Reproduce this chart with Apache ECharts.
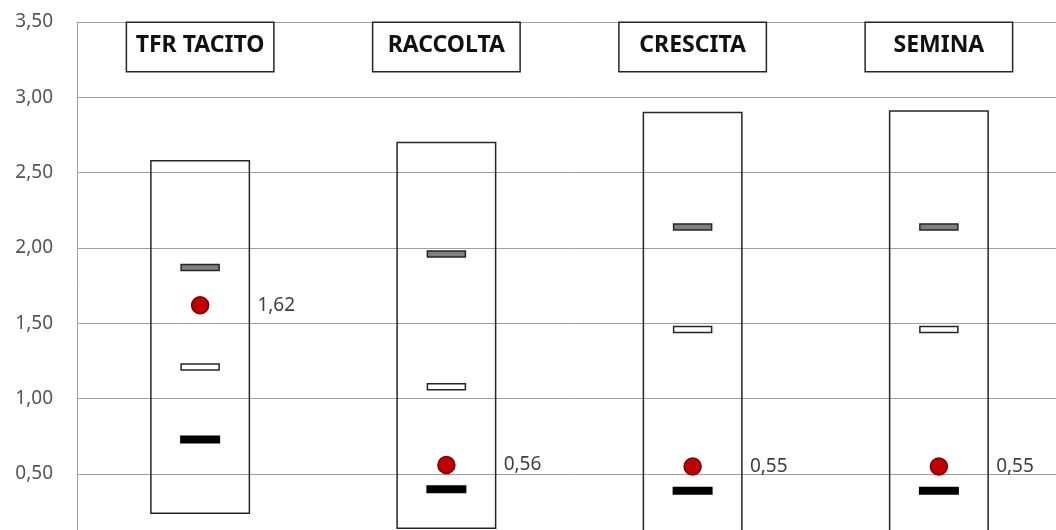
<!DOCTYPE html>
<html>
<head>
<meta charset="utf-8">
<script src="https://cdn.jsdelivr.net/npm/echarts@6/dist/echarts.min.js"></script>
<style>
  html, body { margin: 0; padding: 0; background: #fff; overflow: hidden; }
  #chart { width: 1062px; height: 560px; }
</style>
</head>
<body>
<div id="chart"></div>
<script>
// categorie e valori
const categories = ['TFR TACITO', 'RACCOLTA', 'CRESCITA', 'SEMINA']
const boxTop = [2.58, 2.70, 2.90, 2.91]
const boxBottom = [0.24, 0.14, 0.05, 0.05]
const grayMark = [1.87, 1.96, 2.14, 2.14]
const whiteMark = [1.21, 1.08, 1.46, 1.46]
const blackMark = [0.73, 0.40, 0.39, 0.39]
const pointValue = [1.62, 0.56, 0.55, 0.55]
const yTicks = { min: 0, max: 3.5, interval: 0.5 }

const comma = v => Number(v).toFixed(2).replace('.', ',')
const font = '"Noto Sans", "Open Sans", sans-serif'

function renderBox(params, api) {
  const top = api.coord([api.value(0), api.value(1)])
  const bottom = api.coord([api.value(0), api.value(2)])
  const w = api.size([1, 0])[0] * 0.4
  return {
    type: 'rect',
    shape: { x: top[0] - w / 2, y: top[1], width: w, height: bottom[1] - top[1] },
    style: { fill: 'none', stroke: '#262626', lineWidth: 1.5 },
  }
}

// trattino orizzontale centrato sul valore
function dashSeries(values, fill, stroke) {
  return {
    type: 'custom',
    z: 3,
    data: values.map((v, i) => [i, v]),
    encode: { x: 0, y: 1 },
    renderItem(params, api) {
      const p = api.coord([api.value(0), api.value(1)])
      const w = stroke ? 38 : 40
      const h = stroke ? 6 : 8
      return {
        type: 'rect',
        shape: { x: p[0] - w / 2, y: p[1] - h / 2, width: w, height: h },
        style: { fill, stroke: stroke || null, lineWidth: stroke ? 1.5 : 0 },
      }
    },
  }
}

const chart = echarts.init(document.getElementById('chart'))
chart.setOption({
  animation: false,
  grid: { left: 77, right: 0, top: 22, bottom: 10.6 },
  xAxis: {
    type: 'category',
    data: categories,
    position: 'top',
    axisLine: { show: false },
    axisTick: { show: false },
    axisLabel: {
      inside: true,
      margin: 1,
      interval: 0,
      fontFamily: font,
      fontSize: 23,
      fontWeight: 'bold',
      color: '#111',
      width: 146,
      height: 48,
      lineHeight: 44,
      align: 'center',
      borderColor: '#262626',
      borderWidth: 1.5,
      backgroundColor: '#fff',
    },
  },
  yAxis: {
    type: 'value',
    min: yTicks.min,
    max: yTicks.max,
    interval: yTicks.interval,
    axisLine: { show: true, lineStyle: { color: '#a0a0a0', width: 1 } },
    axisTick: { show: false },
    axisLabel: { formatter: comma, fontFamily: font, fontSize: 19, color: '#555', margin: 24 },
    splitLine: { lineStyle: { color: '#a0a0a0', width: 1 } },
  },
  series: [
    {
      type: 'custom',
      renderItem: renderBox,
      z: 2,
      data: categories.map((c, i) => [i, boxTop[i], boxBottom[i]]),
      encode: { x: 0, y: [1, 2] },
    },
    dashSeries(grayMark, '#808080', '#262626'),
    dashSeries(whiteMark, '#ffffff', '#262626'),
    dashSeries(blackMark, '#000000'),
    {
      type: 'scatter',
      data: pointValue,
      z: 4,
      symbol: 'circle',
      symbolSize: 17,
      itemStyle: { color: '#c00000', borderColor: '#7a0000', borderWidth: 1.5, opacity: 1 },
      label: {
        show: true,
        position: 'right',
        distance: 48,
        formatter: p => comma(p.value),
        fontFamily: font,
        fontSize: 19,
        color: '#404040',
      },
      emphasis: { disabled: true },
    },
  ],
})
</script>
</body>
</html>
